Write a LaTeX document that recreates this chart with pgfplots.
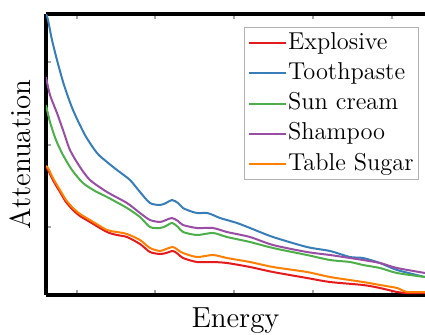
\documentclass[border=0pt]{standalone}
\usepackage{pgfplots}
\pgfplotsset{compat=1.18}

\definecolor{cRed}{HTML}{E41A1C}
\definecolor{cBlue}{HTML}{377EB8}
\definecolor{cGreen}{HTML}{4DAF4A}
\definecolor{cPurple}{HTML}{984EA3}
\definecolor{cOrange}{HTML}{FF7F00}

\begin{document}
\begin{tikzpicture}
\begin{axis}[
  scale only axis,
  width=189.5pt, height=140.5pt,
  xmin=0, xmax=379, ymin=0, ymax=281,
  axis y line*=left,
  y axis line style={-},
  axis line style={line width=1.8pt},
  xtick={31,109,188,267,346},
  ytick={68,150,233},
  xticklabels={}, yticklabels={},
  tick align=inside,
  major tick length=2.5pt,
  tick style={gray!70, line width=0.6pt},
  xtick pos=both,
  label style={font=\fontsize{14.5}{17}\selectfont},
  xlabel={Energy},
  xlabel style={at={(axis description cs:0.5,-0.043)}, anchor=north, inner sep=0pt},
  ylabel={Attenuation},
  ylabel style={at={(axis description cs:-0.04,0.5)}, anchor=south, inner sep=0pt, rotate=0},
  every axis plot/.append style={line width=1pt, smooth, tension=0.45},
  legend image code/.code={\draw[#1] (0pt,0pt) -- (18.5pt,0pt);},
  legend cell align=left,
  legend style={
    at={(axis description cs:0.984,0.954)}, anchor=north east,
    draw=gray!60, line width=0.5pt,
    font=\fontsize{12.2}{14}\selectfont,
    inner xsep=2pt, inner ysep=1.8pt,
    row sep=2.9pt,
    nodes={inner sep=0.4pt, text height=8.7pt, text depth=2.7pt},
  },
]
\coordinate (sw) at (rel axis cs:0,0);

% Explosive
\addplot[cRed] coordinates {
(0,128)(2,125)(8,113)(14,103)(20,93)(27,85)(34,79)(44,73)(61,63)(71,60)(81,58)
(94,51)(104,43)(114,41)(120,42)(127,44)(132,41)(137,37)(151,33)(167,33)(181,32)
(204,28)(227,23)(261,17)(284,13)(317,10)(334,7)(351,3)(361,2)(379,2)};
\addlegendentry{Explosive}

% Toothpaste
\addplot[cBlue] coordinates {
(0,281)(2,275)(6,255)(11,235)(18,210)(27,185)(39,160)(51,142)(61,133)(71,125)
(84,115)(94,103)(104,92)(114,90)(120,92)(126,95)(132,92)(137,87)(144,84)(151,82)
(161,82)(167,80)(174,77)(191,72)(204,67)(227,58)(261,48)(284,44)(304,38)(317,37)
(334,32)(351,25)(379,18)};
\addlegendentry{Toothpaste}

% Sun cream
\addplot[cGreen] coordinates {
(0,190)(4,173)(10,155)(17,140)(26,125)(37,112)(49,104)(61,98)(81,87)(94,78)
(104,68)(114,67)(120,69)(126,72)(132,68)(137,63)(151,60)(167,62)(181,58)(204,53)
(227,47)(261,40)(284,35)(304,33)(317,30)(334,27)(351,22)(379,18)};
\addlegendentry{Sun cream}

% Shampoo
\addplot[cPurple] coordinates {
(0,218)(4,200)(11,182)(17,165)(24,145)(34,128)(44,115)(61,103)(81,92)(94,82)
(104,75)(114,73)(120,75)(126,77)(132,74)(137,70)(151,67)(167,67)(181,63)(204,58)
(227,50)(261,43)(284,40)(304,37)(317,35)(334,32)(351,27)(379,22)};
\addlegendentry{Shampoo}

% Table Sugar
\addplot[cOrange] coordinates {
(0,129)(2,127)(8,115)(14,105)(20,95)(27,87)(34,81)(44,75)(61,65)(71,63)(81,61)
(94,55)(104,47)(114,44)(120,46)(127,48)(132,45)(137,42)(151,38)(167,40)(181,37)
(204,33)(227,28)(261,23)(284,18)(317,13)(334,10)(351,7)(361,3)(379,3)};
\addlegendentry{Table Sugar}
\end{axis}
\pgfresetboundingbox
\path[use as bounding box] (sw) ++(-23pt,-19.5pt) rectangle ++(212.5pt,167pt);
\end{tikzpicture}
\end{document}
